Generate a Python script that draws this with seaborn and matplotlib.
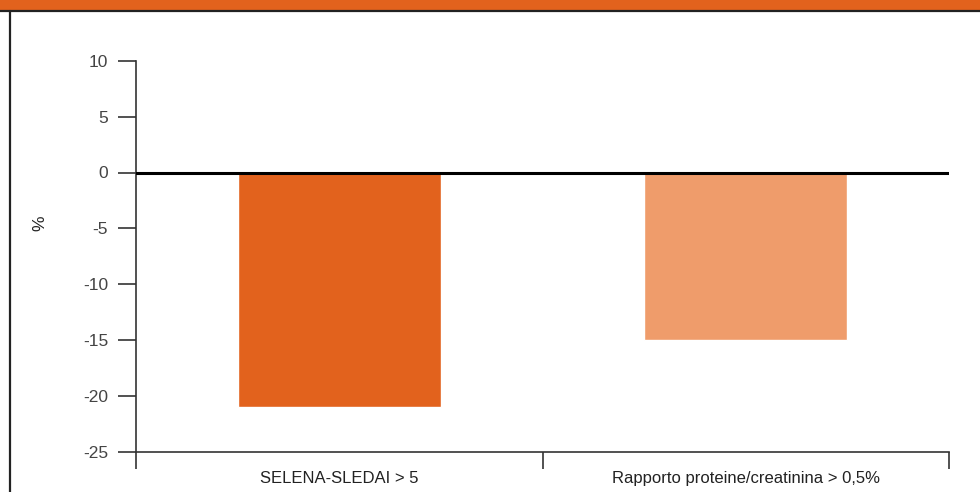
import matplotlib
matplotlib.use("Agg")
import matplotlib.pyplot as plt
from matplotlib.lines import Line2D
from matplotlib.patches import Rectangle
import seaborn as sns
import pandas as pd

categories = ["SELENA-SLEDAI > 5", "Rapporto proteine/creatinina > 0,5%"]
values = [-21, -15]
colors = ["#E2621D", "#EF9C6B"]
y_ticks = [10, 5, 0, -5, -10, -15, -20, -25]

sns.set_theme(style="white")
plt.rcParams["font.family"] = ["Liberation Sans Narrow", "Liberation Sans", "DejaVu Sans"]

W, H = 980, 492
fig = plt.figure(figsize=(W / 100, H / 100), dpi=100)
fig.patch.set_facecolor("white")

# header band and frame
fig.add_artist(Rectangle((0, 1 - 9.5 / H), 1, 9.5 / H, transform=fig.transFigure,
                         facecolor="#E2621D", edgecolor="none"))
fig.add_artist(Line2D([0, 1], [1 - 10.5 / H, 1 - 10.5 / H], transform=fig.transFigure,
                      color="#222222", lw=1.6))
fig.add_artist(Line2D([9.5 / W, 9.5 / W], [0, 1 - 10.5 / H], transform=fig.transFigure,
                      color="#222222", lw=1.6))

ax = fig.add_axes([136 / W, 1 - 452 / H, (949 - 136) / W, (452 - 60.7) / H])
df = pd.DataFrame({"cat": categories, "val": values})
sns.barplot(data=df, x="cat", y="val", hue="cat", palette=colors, width=0.5,
            legend=False, ax=ax, saturation=1)

ax.set_ylim(-25, 10)
ax.set_xlim(-0.5, len(categories) - 0.5)
ax.set_yticks(y_ticks)
ax.set_yticklabels([str(t) for t in y_ticks])
ax.axhline(0, color="black", lw=2.2, zorder=5)

ax.set_xticks([i - 0.5 for i in range(len(categories) + 1)])
ax.set_xticklabels([""] * (len(categories) + 1))
ax.set_xticks(range(len(categories)), minor=True)
ax.set_xticklabels(categories, minor=True)
ax.tick_params(axis="x", which="minor", length=0, pad=14, labelsize=12, labelcolor="#222222")
ax.tick_params(axis="x", which="major", length=12, width=1.2, color="#333333", direction="out", bottom=True)
ax.tick_params(axis="y", length=13, width=1.2, color="#333333", direction="out", left=True,
               labelsize=12.5, labelcolor="#444444", pad=7)

for side in ["top", "right"]:
    ax.spines[side].set_visible(False)
for side in ["left", "bottom"]:
    ax.spines[side].set_color("#333333")
    ax.spines[side].set_linewidth(1.2)

ax.set_xlabel("")
ax.set_ylabel("")
fig.text(40 / W, 1 - 223 / H, "%", rotation=90, ha="center", va="center",
         fontsize=12.5, color="#222222")

fig.savefig("out.png", dpi=100)
